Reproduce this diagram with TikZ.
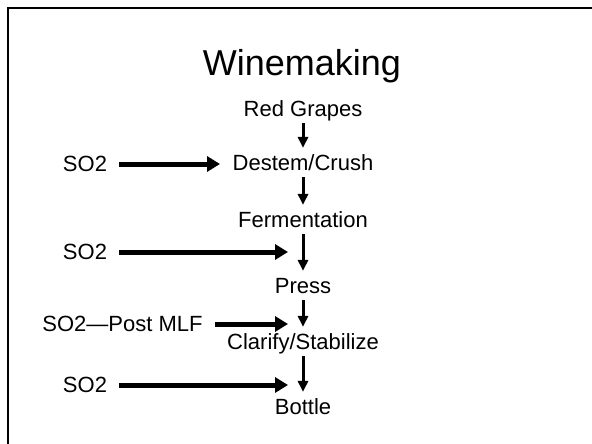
\documentclass[tikz,border=0pt]{standalone}
\usepackage{fontspec}
\setmainfont{Liberation Sans}
\usetikzlibrary{arrows.meta}

\begin{document}
\begin{tikzpicture}[x=1pt,y=-1pt,
    every node/.style={inner sep=0pt,font=\fontsize{22}{26}\selectfont,text height=15.75pt,text depth=0pt},
    down/.style={-{Triangle[length=11pt,width=10pt]},line width=3pt,shorten <=6pt,shorten >=7pt},
    feed/.style={-{Triangle[length=13pt,width=15pt]},line width=5pt,shorten <=12pt}]
    \useasboundingbox (0,0) rectangle (592,444);
    \draw[line width=2.5pt] (8,8) rectangle (620,470);

    \node[font=\fontsize{36}{43}\selectfont,text height=26pt] (title) at (302,63) {Winemaking};
    \node (grapes) at (303,109) {Red Grapes};
    \node (destem) at (303,163) {Destem/Crush};
    \node (ferment) at (303,220) {Fermentation};
    \node (press) at (303,286) {Press};
    \node (clarify) at (303,342) {Clarify/Stabilize};
    \node (bottle) at (303,407) {Bottle};

    \foreach \a/\b in {grapes/destem,destem/ferment,ferment/press,press/clarify,clarify/bottle}
        \draw[down] (\a) -- (\b);

    \node (so2a) at (85,164) {SO2};
    \node (so2b) at (85,252) {SO2};
    \node (mlf) at (122.5,324) {SO2—Post MLF};
    \node (so2d) at (85,385) {SO2};

    \draw[feed,shorten >=12.5pt] (so2a.east) -- (so2a.east -| destem.west);
    \foreach \s/\t in {so2b/press,mlf/clarify,so2d/bottle}
        \draw[feed,shorten >=15pt] (\s.east) -- (\s.east -| \t);
\end{tikzpicture}
\end{document}
